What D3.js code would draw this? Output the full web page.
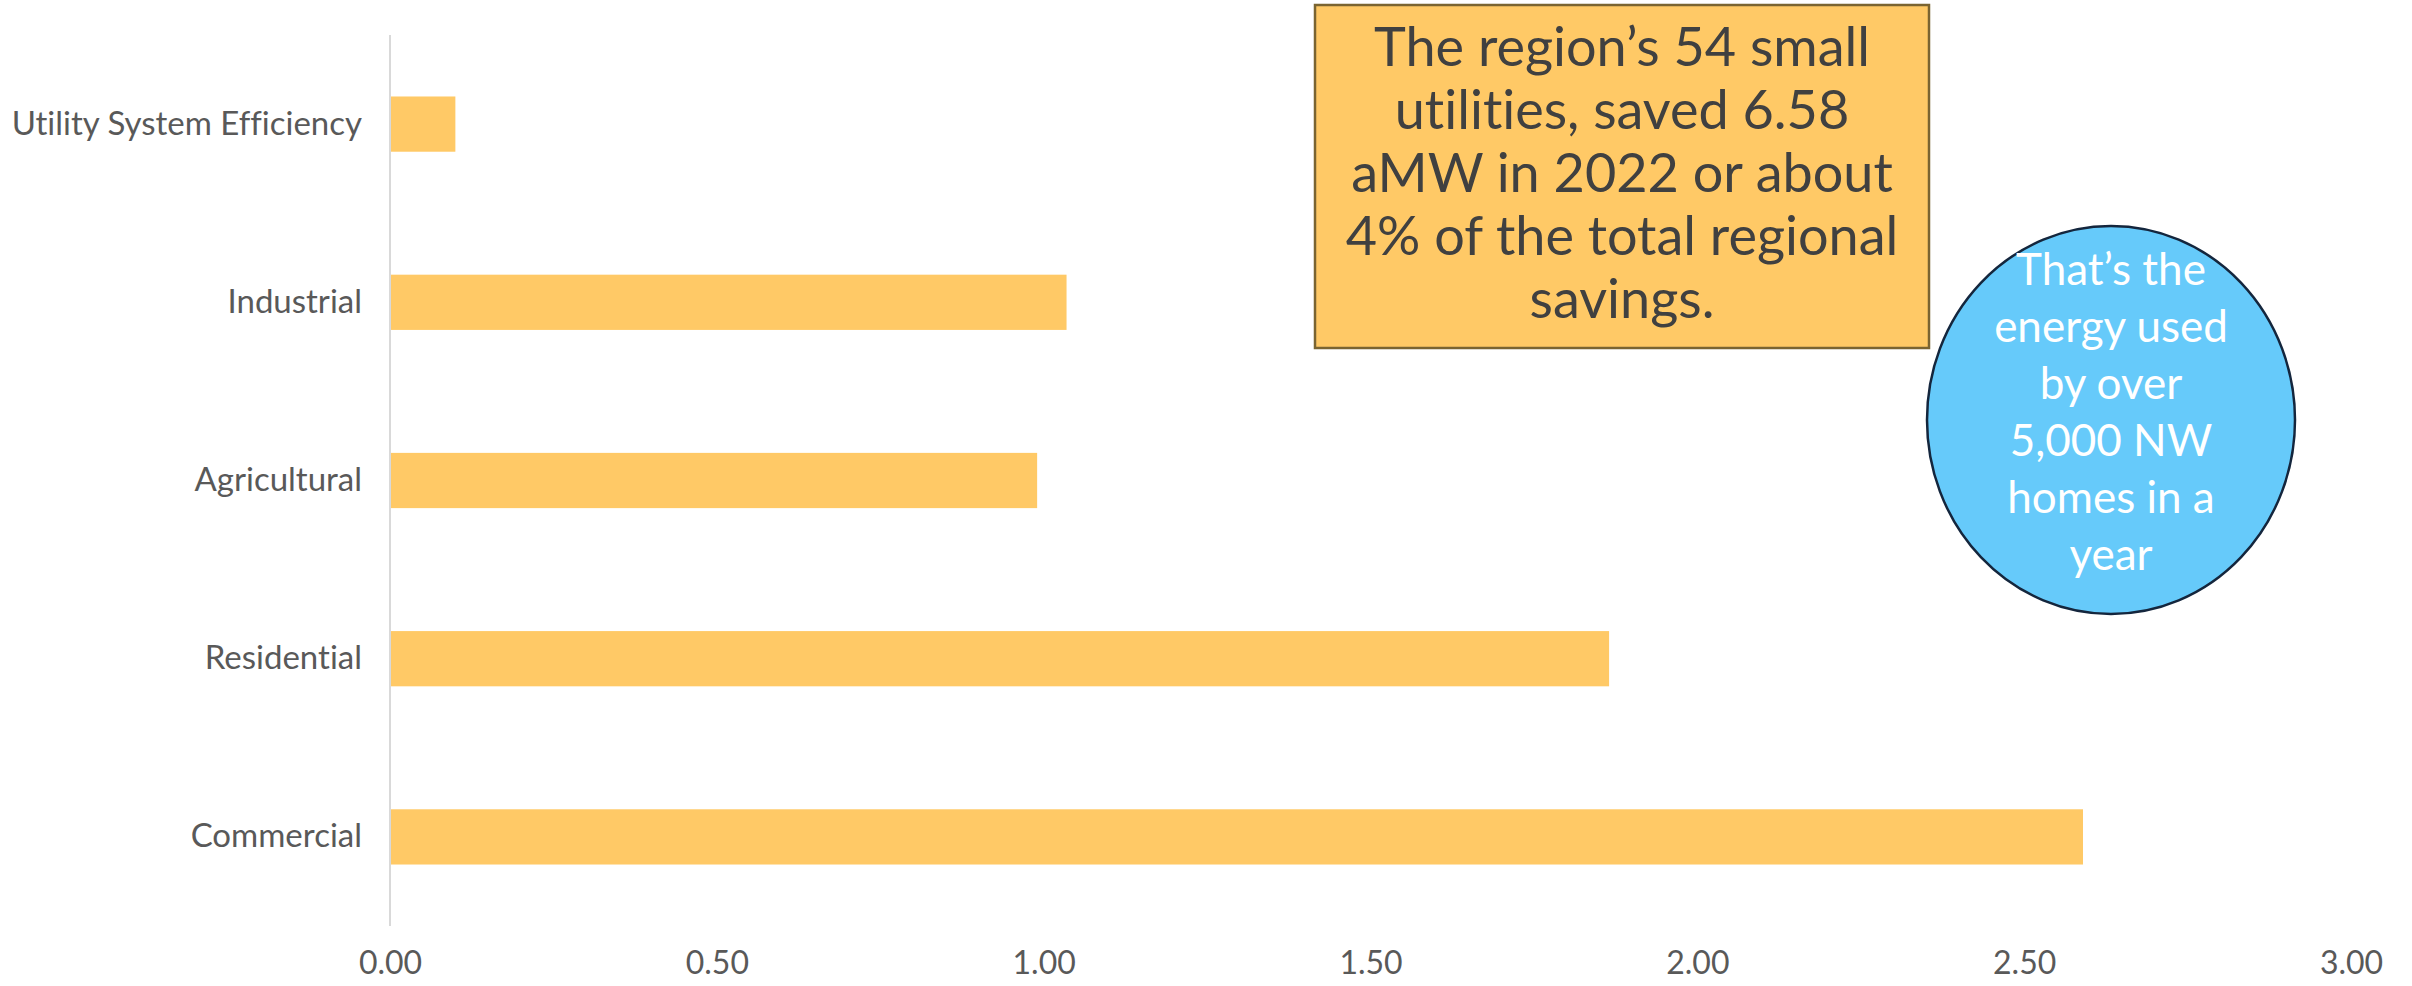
<!DOCTYPE html>
<html>
<head>
<meta charset="utf-8">
<script src="https://cdn.jsdelivr.net/npm/d3@7"></script>
<style>
  html, body { margin: 0; padding: 0; background: #ffffff; }
  svg { display: block; font-family: Lato, "Open Sans", sans-serif; font-variant-ligatures: none; }
  text { font-variant-ligatures: none; font-feature-settings: "liga" 0, "clig" 0; }
</style>
</head>
<body>
<svg id="chart" width="2412" height="986"></svg>
<script>
// ---- data ----
const categories = ["Utility System Efficiency", "Industrial", "Agricultural", "Residential", "Commercial"];
const savings = [0.10, 1.035, 0.99, 1.865, 2.59];
const xTicks = [0, 0.5, 1.0, 1.5, 2.0, 2.5, 3.0];
const boxLines = ["The region\u2019s 54 small", "utilities, saved 6.58", "aMW in 2022 or about", "4% of the total regional", "savings."];
const bubbleLines = ["That\u2019s the", "energy used", "by over", "5,000 NW", "homes in a", "year"];

// ---- layout ----
const W = 2412, H = 986;
const plot = { left: 390, right: 2351, top: 35, bottom: 926 };
const svg = d3.select("#chart");

const x = d3.scaleLinear().domain([0, 3]).range([plot.left, plot.right]);
const y = d3.scaleBand().domain(categories).range([plot.top, plot.bottom]).paddingInner(0.69).paddingOuter(0.345);

// bars
svg.append("g").selectAll("rect")
  .data(categories.map((c, i) => ({ c, v: savings[i] })))
  .join("rect")
  .attr("x", x(0))
  .attr("y", d => y(d.c))
  .attr("width", d => x(d.v) - x(0))
  .attr("height", y.bandwidth())
  .attr("fill", "#FFC966");

// vertical axis line
svg.append("line")
  .attr("x1", x(0)).attr("x2", x(0))
  .attr("y1", plot.top).attr("y2", plot.bottom)
  .attr("stroke", "#d9d9d9").attr("stroke-width", 2);

// y axis labels
const yAxis = d3.axisLeft(y).tickSize(0).tickPadding(28);
const gy = svg.append("g").attr("transform", `translate(${x(0)},0)`).call(yAxis);
gy.select(".domain").remove();
gy.selectAll("text")
  .attr("fill", "#595959")
  .style("font-size", "33px")
  .style("font-family", "Lato, sans-serif");

// x axis labels
const xAxis = d3.axisBottom(x).tickValues(xTicks).tickFormat(d3.format(".2f")).tickSize(0).tickPadding(0);
const gx = svg.append("g").attr("transform", `translate(0,${plot.bottom})`).call(xAxis);
gx.select(".domain").remove();
gx.selectAll("text")
  .attr("fill", "#595959")
  .attr("dy", null)
  .attr("y", 48)
  .style("font-size", "32px")
  .style("font-family", "Lato, sans-serif");

// annotation box
const box = { x: 1315, y: 5, w: 614, h: 343 };
svg.append("rect")
  .attr("x", box.x).attr("y", box.y).attr("width", box.w).attr("height", box.h)
  .attr("fill", "#FFC966").attr("stroke", "#7a6431").attr("stroke-width", 2.5);
svg.append("g").selectAll("text")
  .data(boxLines)
  .join("text")
  .attr("x", box.x + box.w / 2)
  .attr("y", (d, i) => 66 + i * 63)
  .attr("text-anchor", "middle")
  .attr("fill", "#404040")
  .style("font-size", "54px")
  .text(d => d);

// bubble
const ell = { cx: 2111, cy: 420, rx: 184, ry: 194 };
svg.append("ellipse")
  .attr("cx", ell.cx).attr("cy", ell.cy).attr("rx", ell.rx).attr("ry", ell.ry)
  .attr("fill", "#66CAFA").attr("stroke", "#14263d").attr("stroke-width", 2.5);
svg.append("g").selectAll("text")
  .data(bubbleLines)
  .join("text")
  .attr("x", ell.cx)
  .attr("y", (d, i) => 285 + i * 57)
  .attr("text-anchor", "middle")
  .attr("fill", "#ffffff")
  .style("font-size", "44px")
  .text(d => d);
</script>
</body>
</html>
